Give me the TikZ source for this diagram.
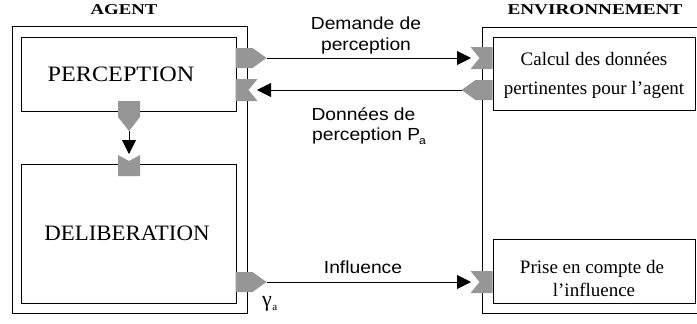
\documentclass[tikz,border=0pt]{standalone}
\usepackage{fontspec}
\setmainfont{Liberation Serif}
\setsansfont{Liberation Sans}[FakeStretch=1.1]
\usepackage{graphicx}
\usetikzlibrary{arrows.meta}
\definecolor{portgray}{RGB}{150,150,150}
\tikzset{
  box/.style={draw=black, line width=0.9pt, fill=white, minimum width=#1},
  lbl/.style={font=\sffamily\fontsize{17.5}{20}\selectfont, anchor=base, inner sep=0pt},
  boxtext/.style={font=\fontsize{19}{26}\selectfont, align=center, inner sep=0pt},
  conn/.style={line width=0.9pt, -{Triangle[length=14pt,width=14pt]}},
  outport/.pic={\fill[portgray] (0,-10) -- (17,-10) -- (31,0) -- (17,10) -- (0,10) -- cycle;},
  inport/.pic={\fill[portgray] (0,-11) -- (22,-11) -- (13,0) -- (22,11) -- (0,11) -- cycle;}
}
\newcommand{\lowsub}[1]{\raisebox{-4pt}{\fontsize{11}{11}\selectfont #1}}
\begin{document}
\begin{tikzpicture}[x=1pt,y=-1pt]
\useasboundingbox (0,0) rectangle (697,324);
% outer boxes
\node[box=235pt, minimum height=287pt, inner sep=0pt] (agent) at (129.5,169.5) {};
\draw[line width=0.9pt] (697,27) -- (482,27) -- (482,313) -- (697,313);
% inner boxes
\node[box=215pt, minimum height=74pt] (perc) at (128.5,74) {};
\node[font=\fontsize{22}{26}\selectfont\addfontfeatures{FakeStretch=1.1}] (perct) at (121,74) {PERCEPTION};
\node[box=215pt, minimum height=139pt] (delib) at (128.5,233.5) {};
\node[font=\fontsize{22}{26}\selectfont\addfontfeatures{FakeStretch=1.04}] (delibt) at (127,233.5) {DELIBERATION};
\node[box=202pt, minimum height=73pt] (calc) at (594,73.5) {};
\node[boxtext, anchor=base] (calc1) at (594,65.5) {Calcul des donn\'ees};
\node[boxtext, anchor=base] (calc2) at (594,94.5) {pertinentes pour l'agent};
\node[box=202pt, minimum height=64pt] (prise) at (594,271) {};
\node[boxtext, anchor=base] (prise1) at (592,273) {Prise en compte de};
\node[boxtext, anchor=base] (prise2) at (594,296) {l'influence};
% titles
\node[anchor=base, inner sep=0pt, font=\fontsize{15}{18}\selectfont\bfseries] (tagent) at (124,15) {\scalebox{1.25}[1]{AGENT}};
\node[anchor=base, inner sep=0pt, font=\fontsize{15}{18}\selectfont\bfseries] (tenv) at (595,15) {\scalebox{1.28}[1]{ENVIRONNEMENT}};
% ports
\pic at (235.5,58) {outport};
\pic at (235.5,90) {inport};
\pic at (235.5,282) {outport};
\pic[xscale=-1] at (492.5,58) {inport};
\pic[xscale=-1] at (492.5,90) {outport};
\pic[xscale=-1] at (492.5,282) {inport};
\fill[portgray] (118,101) -- (140,101) -- (140,117) -- (129,131) -- (118,117) -- cycle;
\fill[portgray] (118,155) -- (129,161) -- (140,155) -- (140,176) -- (118,176) -- cycle;
% connector end points
\coordinate (dpout) at (266.5,58);
\coordinate (envin) at (471,58);
\coordinate (envout) at (461.5,90);
\coordinate (dpin) at (257,90);
\coordinate (pdown) at (129,131);
\coordinate (ddin) at (129,154);
\coordinate (infout) at (266.5,282);
\coordinate (infin) at (471,282);
\draw[conn] (dpout) -- (envin);
\draw[conn] (envout) -- (dpin);
\draw[conn] (pdown) -- (ddin);
\draw[conn] (infout) -- (infin);
% labels
\node[lbl] (l1) at (366,30) {Demande de};
\node[lbl] (l2) at (366,50) {perception};
\node[lbl] (l3) at (363.5,120) {Donn\'ees de};
\node[lbl] (l4) at (369,140) {perception P\kern-1pt\lowsub{a}};
\node[lbl] (l5) at (363,273) {Influence};
\node[anchor=base west, inner sep=0pt, font=\fontsize{22}{24}\selectfont] (gam) at (262,306) {γ\kern0.5pt\lowsub{a}};
\end{tikzpicture}
\end{document}
